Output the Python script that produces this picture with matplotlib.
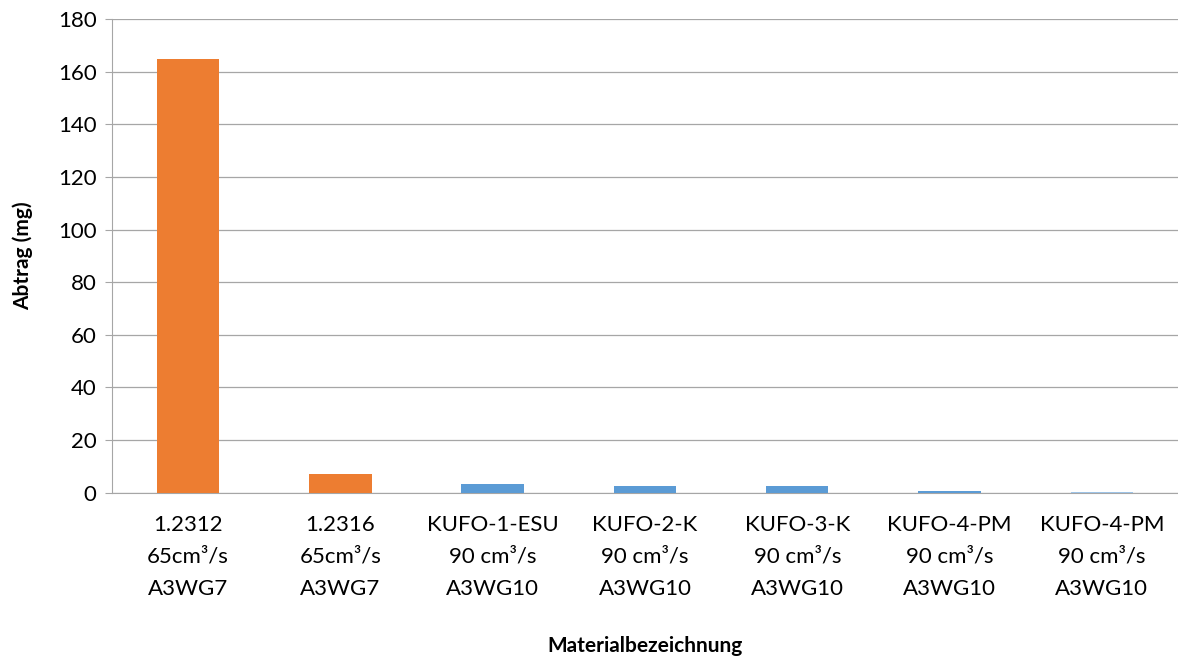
import matplotlib.pyplot as plt

# data
labels = ["1.2312\n65cm³/s\nA3WG7", "1.2316\n65cm³/s\nA3WG7",
          "KUFO-1-ESU\n90 cm³/s\nA3WG10", "KUFO-2-K\n90 cm³/s\nA3WG10",
          "KUFO-3-K\n90 cm³/s\nA3WG10", "KUFO-4-PM\n90 cm³/s\nA3WG10",
          "KUFO-4-PM\n90 cm³/s\nA3WG10"]
abtrag = [165, 7, 3.4, 2.4, 2.4, 0.6, 0.4]
bar_colors = ["#ED7D31", "#ED7D31", "#5B9BD5", "#5B9BD5",
              "#5B9BD5", "#5B9BD5", "#9DC3E6"]

plt.rcParams['font.family'] = ['Lato', 'DejaVu Sans']

fig = plt.figure(figsize=(11.78, 6.57), dpi=100)
ax = fig.add_axes([0.095, 0.250, 0.905, 0.721])

x = range(len(labels))
ax.bar(x, abtrag, width=0.41, color=bar_colors, zorder=3)

ax.set_ylim(0, 180)
ax.set_yticks(range(0, 181, 20))
ax.set_xlim(-0.5, len(labels) - 0.5)
ax.set_xticks(list(x))
ax.set_xticklabels(labels, fontsize=16, linespacing=1.75)
ax.tick_params(axis='y', labelsize=16, length=5, color='#A6A6A6', pad=6)
ax.tick_params(axis='x', length=0, pad=16)

ax.grid(axis='y', color='#A6A6A6', linewidth=0.9, zorder=0)
for side in ['top', 'right']:
    ax.spines[side].set_visible(False)
for side in ['left', 'bottom']:
    ax.spines[side].set_color('#A6A6A6')

ax.set_ylabel("Abtrag (mg)", fontsize=15, fontweight='bold', labelpad=18)
ax.set_xlabel("Materialbezeichnung", fontsize=15, fontweight='bold', labelpad=27)

plt.savefig("out.png")
